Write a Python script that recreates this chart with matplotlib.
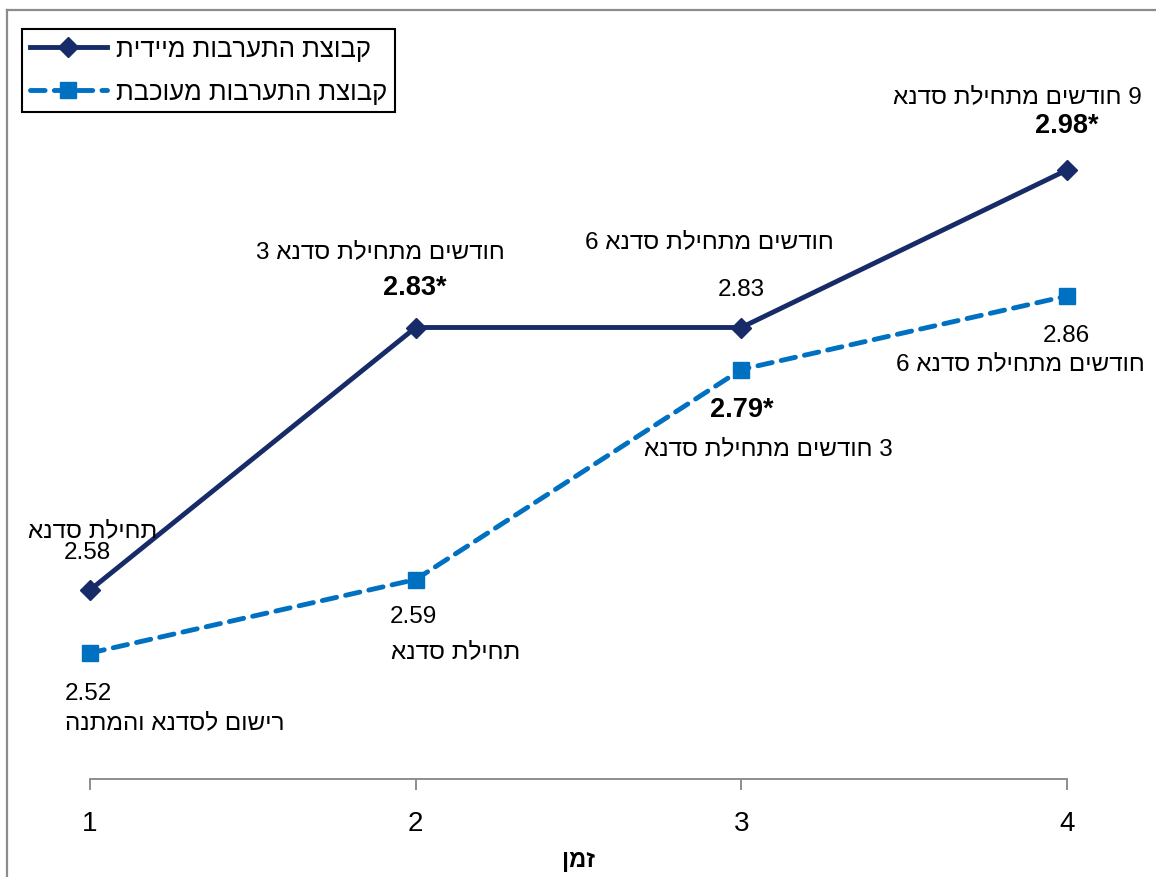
import matplotlib.pyplot as plt
from matplotlib.lines import Line2D

plt.rcParams['font.family'] = ['Liberation Sans', 'DejaVu Sans']


def heb(s):
    # matplotlib has no bidi support, so hebrew is put in visual order by hand
    return s[::-1]


times = [1, 2, 3, 4]
immediate = [2.58, 2.83, 2.83, 2.98]
delayed = [2.52, 2.59, 2.79, 2.86]

months = heb("חודשים מתחילת סדנא")
immediate_labels = ["2.58", "2.83*", "2.83", "2.98*"]
immediate_notes = [heb("תחילת סדנא"), "3 " + months, "6 " + months, months + " 9"]
delayed_labels = ["2.52", "2.59", "2.79*", "2.86"]
delayed_notes = [heb("רישום לסדנא והמתנה"), heb("תחילת סדנא"), months + " 3", "6 " + months]
legend_names = [heb("קבוצת התערבות מיידית"), heb("קבוצת התערבות מעוכבת")]
x_title = heb("זמן")

navy = '#172B68'
blue = '#0070C0'

W, H = 1156, 878
fig = plt.figure(figsize=(W / 100, H / 100), dpi=100)
ax = fig.add_axes([90 / W, (H - 780) / H, 977 / W, 735 / H])

ax.plot(times, immediate, color=navy, lw=3.5, marker='D', ms=10, label=legend_names[0],
        clip_on=False, zorder=3)
ax.plot(times, delayed, color=blue, lw=3.5, ls=(0, (3, 1.9)), dash_capstyle='round',
        marker='s', ms=11, label=legend_names[1], clip_on=False, zorder=3)

ax.set_xlim(1, 4)
ax.set_ylim(2.4, 3.1)
ax.set_yticks([])
ax.set_xticks(times)
ax.tick_params(axis='x', length=8, width=1.3, color='#868686', labelsize=20, pad=14)
for s in ['left', 'top', 'right']:
    ax.spines[s].set_visible(False)
ax.spines['bottom'].set_color('#868686')
ax.spines['bottom'].set_linewidth(1.3)
ax.set_xlabel(x_title, fontsize=17, fontweight='bold', labelpad=9)

fs = 17.5
# value and note offsets in pixels from each point
imm_val_off = [(-3, 38), (-1, 40), (0, 38), (0, 45)]
imm_note_off = [(3, 60), (-35, 76), (-32, 86), (-50, 74)]
del_val_off = [(-2, -40), (-2, -37), (0, -40), (-1, -39)]
del_note_off = [(85, -69), (40, -72), (27, -79), (-47, -67)]

for i, t in enumerate(times):
    bold = 'bold' if '*' in immediate_labels[i] else 'normal'
    ax.annotate(immediate_labels[i], (t, immediate[i]), xytext=imm_val_off[i],
                textcoords='offset pixels', ha='center', va='center',
                fontsize=fs + (2 if bold == 'bold' else 0), fontweight=bold, annotation_clip=False)
    ax.annotate(immediate_notes[i], (t, immediate[i]), xytext=imm_note_off[i],
                textcoords='offset pixels', ha='center', va='center', fontsize=fs,
                annotation_clip=False)
    bold = 'bold' if '*' in delayed_labels[i] else 'normal'
    ax.annotate(delayed_labels[i], (t, delayed[i]), xytext=del_val_off[i],
                textcoords='offset pixels', ha='center', va='center',
                fontsize=fs + (2 if bold == 'bold' else 0), fontweight=bold, annotation_clip=False)
    ax.annotate(delayed_notes[i], (t, delayed[i]), xytext=del_note_off[i],
                textcoords='offset pixels', ha='center', va='center', fontsize=fs,
                annotation_clip=False)

leg = ax.legend(loc='upper left', bbox_to_anchor=(22 / W, 1 - 30 / H),
                bbox_transform=fig.transFigure, borderaxespad=0, fontsize=18.5,
                fancybox=False, edgecolor='black', framealpha=1,
                handlelength=3.0, handletextpad=0.35, borderpad=0.3, labelspacing=0.75)
leg.get_frame().set_linewidth(1.5)

# outer chart border (only top and left show in the frame)
fig.add_artist(Line2D([7 / W, 7 / W], [0, 1 - 11 / H], color='#8c8c8c', lw=1.6))
fig.add_artist(Line2D([7 / W, 1], [1 - 11 / H, 1 - 11 / H], color='#8c8c8c', lw=1.6))

fig.savefig('out.png', dpi=100)
